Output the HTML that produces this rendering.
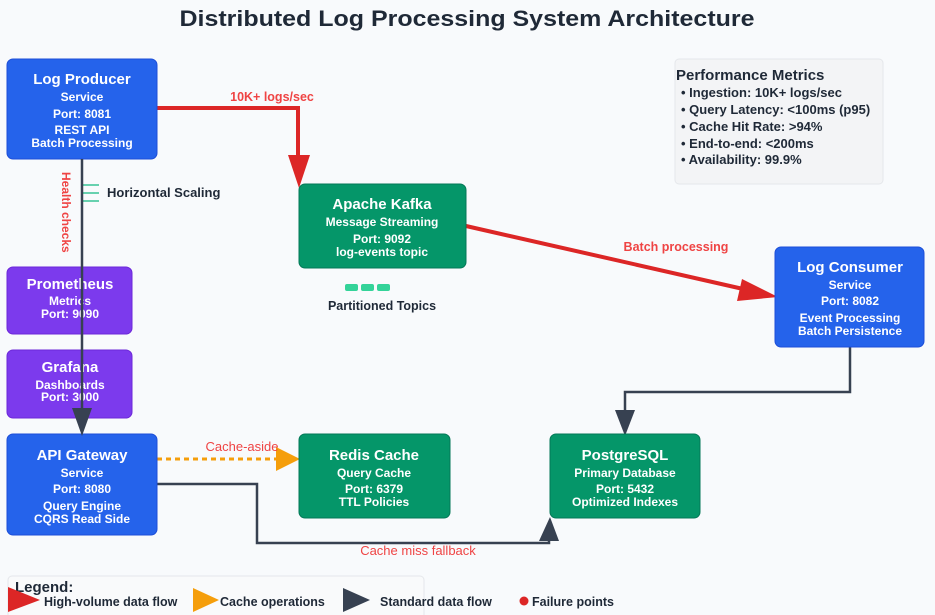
<!DOCTYPE html>
<html><head><meta charset="utf-8"><style>
html,body{margin:0;padding:0;background:#f8fafc;}
svg{display:block;font-family:"Liberation Sans",Arial,sans-serif;}
</style></head><body>
<svg width="935" height="615" viewBox="0 0 935 615" xmlns="http://www.w3.org/2000/svg">
<rect width="935" height="615" fill="#f8fafc"/>
<text x="467" y="26" text-anchor="middle" font-size="22" font-weight="bold" fill="#1f2937" textLength="575" lengthAdjust="spacingAndGlyphs">Distributed Log Processing System Architecture</text>

<!-- metrics box -->
<rect x="675" y="59" width="208" height="125" rx="4" fill="#f3f4f6" stroke="#e5e7eb"/>
<text x="676" y="80" font-size="15" font-weight="bold" fill="#1f2937">Performance Metrics</text>
<g font-size="13" font-weight="bold" fill="#1f2937">
<text x="681" y="97">• Ingestion: 10K+ logs/sec</text>
<text x="681" y="114">• Query Latency: &lt;100ms (p95)</text>
<text x="681" y="131">• Cache Hit Rate: &gt;94%</text>
<text x="681" y="148">• End-to-end: &lt;200ms</text>
<text x="681" y="164">• Availability: 99.9%</text>
</g>

<!-- connectors -->
<polyline points="157,108 298,108 298,158" fill="none" stroke="#dc2626" stroke-width="4"/>
<polygon points="288,155 310,155 299,188" fill="#dc2626"/>
<text x="272" y="101" text-anchor="middle" font-size="12.5" font-weight="bold" fill="#ef4444">10K+ logs/sec</text>

<line x1="466" y1="226" x2="752" y2="291" stroke="#dc2626" stroke-width="4"/>
<polygon points="742,279 778,297 737,301" fill="#dc2626"/>
<text x="676" y="251" text-anchor="middle" font-size="12.5" fill="#ef4444" font-weight="bold">Batch processing</text>

<text transform="translate(62,172) rotate(90)" font-size="12" font-weight="bold" fill="#ef4444">Health checks</text>
<g stroke="#10b981" stroke-width="1.2"><line x1="82" y1="185" x2="99" y2="185"/><line x1="82" y1="193" x2="99" y2="193"/><line x1="82" y1="201" x2="99" y2="201"/></g>
<text x="107" y="197" font-size="13" font-weight="bold" fill="#1f2937">Horizontal Scaling</text>

<polyline points="850,347 850,392 625,392 625,414" fill="none" stroke="#374151" stroke-width="2.5"/>
<polygon points="615,410 635,410 625,436" fill="#374151"/>

<line x1="157" y1="459" x2="280" y2="459" stroke="#f59e0b" stroke-width="3" stroke-dasharray="5,4"/>
<polygon points="276,447 276,471 300,459" fill="#f59e0b"/>
<text x="242" y="451" text-anchor="middle" font-size="13" fill="#ef4444">Cache-aside</text>

<polyline points="157,484 257,484 257,543 549,543 549,540" fill="none" stroke="#374151" stroke-width="2.5"/>
<polygon points="539,541 559,541 550,517" fill="#374151"/>
<text x="418" y="555" text-anchor="middle" font-size="13" fill="#ef4444">Cache miss fallback</text>

<!-- nodes -->
<g fill="#fff" text-anchor="middle" font-weight="bold">
<rect x="7" y="59" width="150" height="100" rx="6" fill="#2563eb" stroke="#1d4ed8"/>
<text x="82" y="84" font-size="15">Log Producer</text>
<text x="82" y="101" font-size="12">Service</text>
<text x="82" y="118" font-size="12">Port: 8081</text>
<text x="82" y="134" font-size="12">REST API</text>
<text x="82" y="147" font-size="12">Batch Processing</text>

<rect x="299" y="184" width="167" height="84" rx="6" fill="#059669" stroke="#047857"/>
<text x="382" y="209" font-size="15">Apache Kafka</text>
<text x="382" y="226" font-size="12">Message Streaming</text>
<text x="382" y="243" font-size="12">Port: 9092</text>
<text x="382" y="256" font-size="12">log-events topic</text>

<rect x="775" y="247" width="149" height="100" rx="6" fill="#2563eb" stroke="#1d4ed8"/>
<text x="850" y="272" font-size="15">Log Consumer</text>
<text x="850" y="289" font-size="12">Service</text>
<text x="850" y="305" font-size="12">Port: 8082</text>
<text x="850" y="322" font-size="12">Event Processing</text>
<text x="850" y="335" font-size="12">Batch Persistence</text>

<rect x="7" y="267" width="125" height="67" rx="6" fill="#7c3aed" stroke="#6d28d9"/>
<text x="70" y="289" font-size="15">Prometheus</text>
<text x="70" y="305" font-size="12">Metrics</text>
<text x="70" y="318" font-size="12">Port: 9090</text>

<rect x="7" y="350" width="125" height="68" rx="6" fill="#7c3aed" stroke="#6d28d9"/>
<text x="70" y="372" font-size="15">Grafana</text>
<text x="70" y="389" font-size="12">Dashboards</text>
<text x="70" y="401" font-size="12">Port: 3000</text>

<rect x="7" y="434" width="150" height="101" rx="6" fill="#2563eb" stroke="#1d4ed8"/>
<text x="82" y="460" font-size="15">API Gateway</text>
<text x="82" y="477" font-size="12">Service</text>
<text x="82" y="493" font-size="12">Port: 8080</text>
<text x="82" y="510" font-size="12">Query Engine</text>
<text x="82" y="523" font-size="12">CQRS Read Side</text>

<rect x="299" y="434" width="151" height="84" rx="6" fill="#059669" stroke="#047857"/>
<text x="374" y="460" font-size="15">Redis Cache</text>
<text x="374" y="477" font-size="12">Query Cache</text>
<text x="374" y="493" font-size="12">Port: 6379</text>
<text x="374" y="506" font-size="12">TTL Policies</text>

<rect x="550" y="434" width="150" height="84" rx="6" fill="#059669" stroke="#047857"/>
<text x="625" y="460" font-size="15">PostgreSQL</text>
<text x="625" y="477" font-size="12">Primary Database</text>
<text x="625" y="493" font-size="12">Port: 5432</text>
<text x="625" y="506" font-size="12">Optimized Indexes</text>
</g>

<!-- vertical line drawn over boxes -->
<line x1="82" y1="159" x2="82" y2="412" stroke="#374151" stroke-width="2.5"/>
<polygon points="72,408 92,408 82,436" fill="#374151"/>

<!-- partitions -->
<g fill="#34d399"><rect x="345" y="284" width="13" height="7" rx="2"/><rect x="361" y="284" width="13" height="7" rx="2"/><rect x="377" y="284" width="13" height="7" rx="2"/></g>
<text x="382" y="310" text-anchor="middle" font-size="12.5" font-weight="bold" fill="#1f2937">Partitioned Topics</text>

<!-- legend -->
<rect x="8" y="576" width="416" height="45" rx="4" fill="#f9fafb" stroke="#e5e7eb"/>
<text x="15" y="592" font-size="15" font-weight="bold" fill="#1f2937">Legend:</text>
<polygon points="8,587 8,612 40,600" fill="#dc2626"/>
<text x="44" y="606" font-size="12.5" font-weight="bold" fill="#1f2937">High-volume data flow</text>
<polygon points="193,588 193,612 219,600" fill="#f59e0b"/>
<text x="220" y="606" font-size="12.5" font-weight="bold" fill="#1f2937">Cache operations</text>
<polygon points="343,588 343,612 370,600" fill="#374151"/>
<text x="380" y="606" font-size="12.5" font-weight="bold" fill="#1f2937">Standard data flow</text>
<circle cx="524" cy="601" r="4.5" fill="#dc2626"/>
<text x="532" y="606" font-size="12.5" font-weight="bold" fill="#1f2937">Failure points</text>
</svg>
</body></html>
